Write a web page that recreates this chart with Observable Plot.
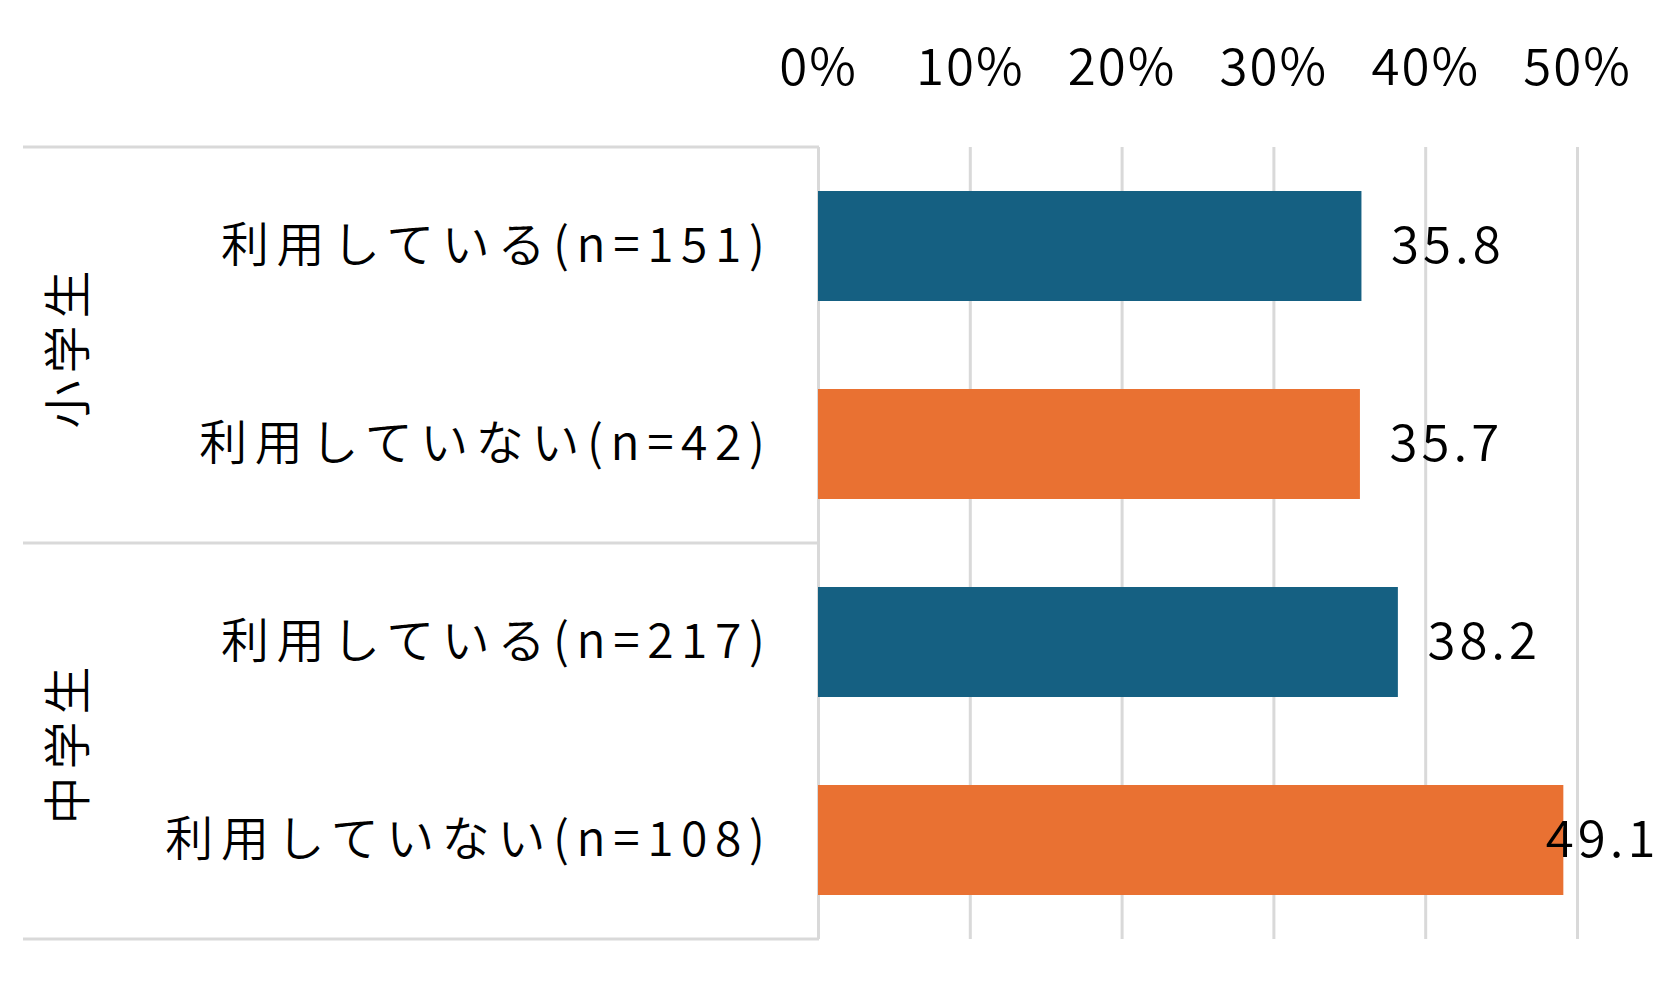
<!DOCTYPE html>
<html>
<head>
<meta charset="utf-8">
<script src="https://cdn.jsdelivr.net/npm/d3@7"></script>
<script src="https://cdn.jsdelivr.net/npm/@observablehq/plot@0.6"></script>
<style>
  html, body { margin: 0; padding: 0; background: #fff; }
  #chart svg { display: block; }
  #chart g[aria-label="x-axis tick label"] { letter-spacing: 2px; }
  #chart g[aria-label="y-axis tick label"] { letter-spacing: 7.6px; }
  #chart g[aria-label="text"] { letter-spacing: 4px; }
  #chart g.group-labels { letter-spacing: 7px; }
</style>
</head>
<body>
<div id="chart"></div>
<script>
// ---- data ----
const groups = ["小学生", "中学生"];
const statuses = ["利用している", "利用していない"];
const rowGroup = ["小学生", "小学生", "中学生", "中学生"];
const rowStatus = ["利用している", "利用していない", "利用している", "利用していない"];
const counts = [151, 42, 217, 108];
const values = [35.8, 35.7, 38.2, 49.1];
const xTicks = [0, 10, 20, 30, 40, 50];
const colors = ["#156082", "#E97132"];

const rows = values.map((v, i) => ({
  group: rowGroup[i],
  status: rowStatus[i],
  label: `${rowStatus[i]}(n=${counts[i]})`,
  value: v
}));

// ---- layout ----
const W = 1676, H = 990;
const mL = 818, mR = 99, mT = 147, mB = 51;
const tableLeft = 23;
const groupLabelX = 67;
const FS = 51;      // numbers
const FSL = 48;     // category / group labels
const xLin = d3.scaleLinear([0, 50], [mL, W - mR]);
const fits = d => xLin(d.value) + 29 + 115 <= W;

const chart = Plot.plot({
  width: W,
  height: H,
  marginLeft: mL,
  marginRight: mR,
  marginTop: mT,
  marginBottom: mB,
  style: {fontFamily: "'Noto Sans CJK JP', 'Noto Sans', sans-serif", fontSize: FS + "px", fontWeight: 350, color: "#000", background: "#fff"},
  x: {domain: [0, 50]},
  y: {domain: rows.map(d => d.label), padding: 0},
  color: {domain: statuses, range: colors},
  marks: [
    Plot.ruleX(xTicks, {stroke: "#d9d9d9", strokeWidth: 3}),
    Plot.barX(rows, {x: "value", y: "label", fill: "status", insetTop: 44, insetBottom: 44}),
    Plot.text(rows.filter(fits), {x: "value", y: "label", text: d => d.value.toFixed(1), textAnchor: "start", dx: 29, fontSize: FS, fill: "#000"}),
    Plot.text(rows.filter(d => !fits(d)), {y: "label", text: d => d.value.toFixed(1), frameAnchor: "right", textAnchor: "end", dx: 82, fontSize: FS, fill: "#000"}),
    Plot.axisX({anchor: "top", ticks: xTicks, tickFormat: d => d + "%", tickSize: 0, tickPadding: 63, fontSize: FS, label: null}),
    Plot.axisY({anchor: "left", tickSize: 0, tickPadding: 46, fontSize: FSL, label: null})
  ]
});

document.getElementById("chart").appendChild(chart);

// ---- table lines and group labels, positioned with Plot's y scale ----
const ys = chart.scale("y");
const step = ys.step;
const svg = d3.select(chart);
const g = svg.append("g").attr("class", "group-labels");
const bounds = [];
groups.forEach(gr => {
  const idx = rows.map((d, i) => d.group === gr ? i : -1).filter(i => i >= 0);
  const top = ys.apply(rows[idx[0]].label);
  const bottom = ys.apply(rows[idx[idx.length - 1]].label) + step;
  bounds.push(top, bottom);
  g.append("text")
    .attr("transform", `translate(${groupLabelX},${(top + bottom) / 2 + 1}) rotate(-90)`)
    .attr("text-anchor", "middle")
    .attr("dy", "0.38em")
    .attr("fill", "#000")
    .attr("font-size", FSL)
    .text(gr);
});
Array.from(new Set(bounds.map(b => Math.round(b * 10) / 10))).forEach(b => {
  g.append("line")
    .attr("x1", tableLeft).attr("x2", mL + 1)
    .attr("y1", b).attr("y2", b)
    .attr("stroke", "#d9d9d9").attr("stroke-width", 3);
});
</script>
</body>
</html>
